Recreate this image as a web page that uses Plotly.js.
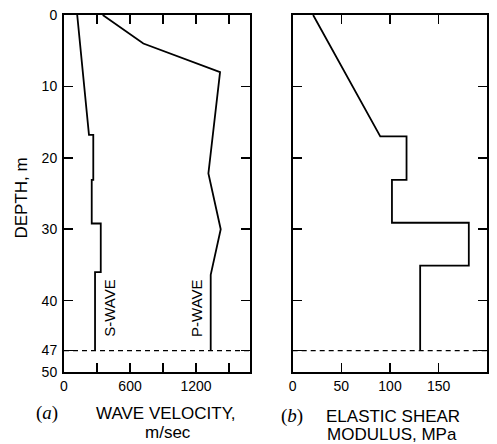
<!DOCTYPE html>
<html>
<head>
<meta charset="utf-8">
<script src="https://cdn.plot.ly/plotly-3.0.1.min.js"></script>
<style>html,body{margin:0;padding:0;background:#fff;}#chart{width:497px;height:444px;}</style>
</head>
<body>
<div id="chart"></div>
<script>
// S-wave velocity profile (m/sec) vs depth (m)
const sWaveDepth = [0, 16.8, 16.8, 23.1, 23.1, 29.2, 29.2, 36.0, 36.0, 47];
const sWaveVel   = [120, 227, 266, 266, 252, 252, 334, 334, 282, 282];
// P-wave velocity profile (m/sec) vs depth (m)
const pWaveDepth = [0, 4, 8, 22.2, 30, 36.4, 47];
const pWaveVel   = [352, 721, 1418, 1312, 1424, 1333, 1333];
// Elastic shear modulus (MPa) vs depth (m)
const shearDepth = [0, 17, 17, 23.1, 23.1, 29.1, 29.1, 35.1, 35.1, 47];
const shearMod   = [21, 90, 117, 117, 102, 102, 181, 181, 131, 131];
// bedrock depth (dashed line)
const bedrockDepth = 47;
// ticks
const depthTicks = [0, 10, 20, 30, 40, 47, 50];
const velTicks = [0, 300, 600, 900, 1200, 1500];
const velTickText = ['0', '', '600', '', '1200', ''];
const modTicks = [0, 50, 100, 150, 200];
const modTickText = ['0', '50', '100', '150', '200'];

const FONT = 'Liberation Sans, Arial, Helvetica, sans-serif';
const SERIF = 'Liberation Serif, Times New Roman, serif';
const lineStyle = {color: '#000', width: 1.8};

const traces = [
  {x: sWaveVel, y: sWaveDepth, mode: 'lines', line: lineStyle, xaxis: 'x', yaxis: 'y', hoverinfo: 'none'},
  {x: pWaveVel, y: pWaveDepth, mode: 'lines', line: lineStyle, xaxis: 'x', yaxis: 'y', hoverinfo: 'none'},
  {x: shearMod, y: shearDepth, mode: 'lines', line: lineStyle, xaxis: 'x2', yaxis: 'y2', hoverinfo: 'none'}
];

const axisCommon = {
  showline: true, linecolor: '#000', linewidth: 2, mirror: 'ticks',
  ticks: 'inside', ticklen: 9, tickwidth: 1.6, tickcolor: '#000',
  showgrid: false, zeroline: false, fixedrange: true,
  tickfont: {family: FONT, size: 14, color: '#000'}
};

function label(text, x, y, size, family, angle) {
  return {text: text, xref: 'paper', yref: 'paper', x: x / 497, y: 1 - (y - 15) / 357,
    xanchor: 'center', yanchor: 'middle', textangle: angle || 0, showarrow: false,
    font: {family: family || FONT, size: size, color: '#000'}};
}

const layout = {
  width: 497, height: 444,
  margin: {l: 0, r: 0, t: 15, b: 72},
  paper_bgcolor: '#fff', plot_bgcolor: '#fff',
  showlegend: false,
  xaxis: Object.assign({}, axisCommon, {domain: [64/497, 250/497], range: [0, 1690], tickvals: velTicks, ticktext: velTickText, anchor: 'y'}),
  yaxis: Object.assign({}, axisCommon, {domain: [0, 1], range: [50, 0], tickvals: depthTicks, ticktext: depthTicks.map(String), anchor: 'x', ticklabelstandoff: 2}),
  xaxis2: Object.assign({}, axisCommon, {domain: [292.7/497, 487.3/497], range: [0, 200], tickvals: modTicks, ticktext: modTickText, anchor: 'y2'}),
  yaxis2: Object.assign({}, axisCommon, {domain: [0, 1], range: [50, 0], tickvals: depthTicks, showticklabels: false, anchor: 'x2'}),
  shapes: [
    {type: 'line', xref: 'x domain', yref: 'y', x0: 0, x1: 1, y0: bedrockDepth, y1: bedrockDepth, line: {color: '#000', width: 1.2, dash: '5px,4px'}},
    {type: 'line', xref: 'x2 domain', yref: 'y2', x0: 0, x1: 1, y0: bedrockDepth, y1: bedrockDepth, line: {color: '#000', width: 1.2, dash: '5px,4px'}}
  ],
  annotations: [
    label('DEPTH, m', 21.5, 198, 17, FONT, -90),
    {text: 'S-WAVE', xref: 'x', yref: 'y', x: 418, y: 41, xanchor: 'center', yanchor: 'middle', textangle: -90, showarrow: false, font: {family: FONT, size: 15, color: '#000'}},
    {text: 'P-WAVE', xref: 'x', yref: 'y', x: 1210, y: 41, xanchor: 'center', yanchor: 'middle', textangle: -90, showarrow: false, font: {family: FONT, size: 15, color: '#000'}},
    label('(<i>a</i>)', 47, 413, 19, SERIF),
    label('WAVE VELOCITY,', 166, 413, 17),
    label('m/sec', 168, 432, 17),
    label('(<i>b</i>)', 292, 416, 19, SERIF),
    label('ELASTIC SHEAR', 393, 416, 17),
    label('MODULUS, MPa', 392, 434, 17)
  ]
};

Plotly.newPlot('chart', traces, layout, {displayModeBar: false, staticPlot: true});
</script>
</body>
</html>
